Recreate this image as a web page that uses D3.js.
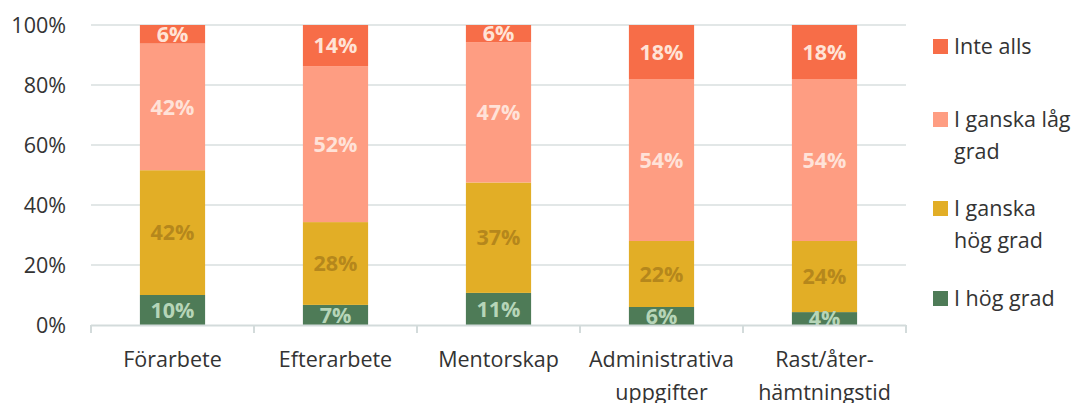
<!DOCTYPE html>
<html>
<head>
<meta charset="utf-8">
<script src="https://cdn.jsdelivr.net/npm/d3@7"></script>
<style>
  body { margin: 0; background: #fff; }
  text { font-family: "Open Sans", "Noto Sans", sans-serif; }
</style>
</head>
<body>
<div id="chart"></div>
<script>
// Categories (each an array of text lines)
const categories = [
    ['Förarbete'],
    ['Efterarbete'],
    ['Mentorskap'],
    ['Administrativa', 'uppgifter'],
    ['Rast/åter-', 'hämtningstid']
];

// Series values in percent, bottom to top
const hogGrad = [10, 6.7, 10.7, 6, 4.3];
const ganskaHog = [41.6, 27.6, 36.8, 22, 23.7];
const ganskaLag = [42.2, 52, 46.8, 54, 54];
const inteAlls = [6.2, 13.7, 5.7, 18, 18];

const yTicks = [0, 20, 40, 60, 80, 100];

const series = [
    { name: 'I hög grad', lines: ['I hög grad'], values: hogGrad, color: '#4e7b57', label: '#b6d5b8' },
    { name: 'I ganska hög grad', lines: ['I ganska', 'hög grad'], values: ganskaHog, color: '#e2ae26', label: '#b5871c' },
    { name: 'I ganska låg grad', lines: ['I ganska låg', 'grad'], values: ganskaLag, color: '#fe9d82', label: '#ffe2d8' },
    { name: 'Inte alls', lines: ['Inte alls'], values: inteAlls, color: '#f76d48', label: '#ffe3d6' }
];

const W = 1081, H = 403;
const margin = { top: 25, right: 175, bottom: 78, left: 91 };
const width = W - margin.left - margin.right;
const height = H - margin.top - margin.bottom;
const fontSize = '21.5px';

const svg = d3.select('#chart')
    .append('svg')
    .attr('width', W)
    .attr('height', H);

const g = svg.append('g')
    .attr('transform', `translate(${margin.left}, ${margin.top})`);

const keys = categories.map(c => c.join(' '));

const x = d3.scaleBand()
    .domain(keys)
    .range([0, width])
    .paddingInner(0.6)
    .paddingOuter(0.3);

const y = d3.scaleLinear()
    .domain([0, 100])
    .range([height, 0]);

// Gridlines
g.append('g')
    .selectAll('line')
    .data(yTicks.slice(1))
    .enter()
    .append('line')
    .attr('x1', 0)
    .attr('x2', width)
    .attr('y1', d => y(d))
    .attr('y2', d => y(d))
    .style('stroke', '#d9dfdf')
    .style('stroke-width', 1.5);

// Y tick labels
g.append('g')
    .selectAll('text')
    .data(yTicks)
    .enter()
    .append('text')
    .attr('x', -25)
    .attr('y', d => y(d))
    .attr('dy', '0.35em')
    .style('text-anchor', 'end')
    .style('font-size', fontSize)
    .style('fill', '#333')
    .text(d => d + '%');

// Stack the data
const rows = keys.map((k, i) => {
    const r = { key: k };
    series.forEach(s => { r[s.name] = s.values[i]; });
    return r;
});
const stacked = d3.stack().keys(series.map(s => s.name))(rows);

stacked.forEach((layer, si) => {
    g.append('g')
        .selectAll('rect')
        .data(layer)
        .enter()
        .append('rect')
        .attr('x', d => x(d.data.key))
        .attr('width', x.bandwidth())
        .attr('y', d => y(d[1]))
        .attr('height', d => y(d[0]) - y(d[1]))
        .style('fill', series[si].color);
});

// Value labels
stacked.forEach((layer, si) => {
    g.append('g')
        .selectAll('text')
        .data(layer)
        .enter()
        .append('text')
        .attr('x', d => x(d.data.key) + x.bandwidth() / 2)
        .attr('y', d => (y(d[0]) + y(d[1])) / 2)
        .attr('dy', '0.36em')
        .style('text-anchor', 'middle')
        .style('font-size', fontSize)
        .style('font-weight', 'bold')
        .style('fill', series[si].label)
        .text(d => Math.round(d[1] - d[0]) + '%');
});

// X axis line and ticks at category boundaries
const xAxis = g.append('g').attr('transform', `translate(0, ${height})`);
xAxis.append('line')
    .attr('x1', 0)
    .attr('x2', width)
    .attr('y1', 0.5)
    .attr('y2', 0.5)
    .style('stroke', '#d3dbdb')
    .style('stroke-width', 2);
xAxis.selectAll('.tick')
    .data(d3.range(keys.length + 1))
    .enter()
    .append('line')
    .attr('x1', d => d * width / keys.length)
    .attr('x2', d => d * width / keys.length)
    .attr('y1', 0)
    .attr('y2', 8)
    .style('stroke', '#d3dbdb')
    .style('stroke-width', 2);

// Category labels
const catText = xAxis.selectAll('.cat')
    .data(categories)
    .enter()
    .append('text')
    .attr('class', 'cat')
    .attr('x', (d, i) => x(keys[i]) + x.bandwidth() / 2)
    .attr('y', 42)
    .style('text-anchor', 'middle')
    .style('font-size', fontSize)
    .style('fill', '#333');
catText.selectAll('tspan')
    .data(d => d)
    .enter()
    .append('tspan')
    .attr('x', function () { return d3.select(this.parentNode).attr('x'); })
    .attr('dy', (d, i) => i === 0 ? 0 : 33)
    .text(d => d);

// Legend
const legendY = [46, 119, 208, 298];
const legend = svg.append('g')
    .selectAll('g')
    .data(series.slice().reverse())
    .enter()
    .append('g')
    .attr('transform', (d, i) => `translate(933, ${legendY[i]})`);

legend.append('rect')
    .attr('x', 0)
    .attr('y', -7)
    .attr('width', 15)
    .attr('height', 15)
    .style('fill', d => d.color);

const legendText = legend.append('text')
    .attr('x', 21)
    .attr('y', 0)
    .style('font-size', fontSize)
    .style('fill', '#333');
legendText.selectAll('tspan')
    .data(d => d.lines)
    .enter()
    .append('tspan')
    .attr('x', 21)
    .attr('dy', (d, i) => i === 0 ? '0.35em' : 32)
    .text(d => d);
</script>
</body>
</html>
